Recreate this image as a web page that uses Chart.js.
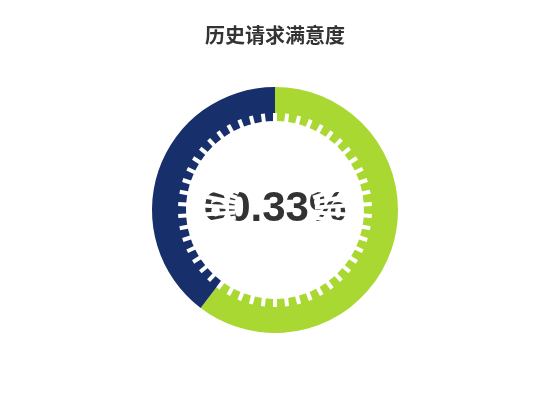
<!DOCTYPE html>
<html lang="zh">
<head>
    <meta charset="UTF-8">
    <title>历史请求满意度</title>
    <script src="https://cdn.jsdelivr.net/npm/chart.js"></script>
    <style>
        html, body { margin: 0; padding: 0; background: #fff; }
        #wrap { width: 550px; height: 420px; }
    </style>
</head>
<body>
<div id="wrap">
    <canvas id="gauge" width="550" height="420"></canvas>
</div>

<script>
    // 数据
    var labels = ['满意', '不满意'];
    var values = [60.33, 39.67];
    var colors = ['#a9d833', '#17306b'];
    var tickCount = 50;

    // 中心文字 + 白色刻度线
    var gaugeTicks = {
        id: 'gaugeTicks',
        afterDatasetsDraw: function (chart) {
            var arc = chart.getDatasetMeta(0).data[0];
            if (!arc) return;
            var ctx = chart.ctx;
            var cx = arc.x, cy = arc.y;
            var inner = arc.innerRadius;

            ctx.save();
            ctx.fillStyle = '#333';
            ctx.font = 'bold 42px "Liberation Sans", Arial, sans-serif';
            ctx.textAlign = 'center';
            ctx.textBaseline = 'middle';
            ctx.fillText(values[0].toFixed(2) + '%', cx, cy - 1);

            ctx.strokeStyle = '#fff';
            ctx.lineWidth = 4;
            ctx.lineCap = 'butt';
            for (var i = 0; i < tickCount; i++) {
                var a = -Math.PI / 2 + i * 2 * Math.PI / tickCount;
                var cos = Math.cos(a), sin = Math.sin(a);
                ctx.beginPath();
                ctx.moveTo(cx + cos * 40, cy + sin * 40);
                ctx.lineTo(cx + cos * (inner + 8), cy + sin * (inner + 8));
                ctx.stroke();
            }
            ctx.restore();
        }
    };

    var ctx = document.getElementById('gauge').getContext('2d');
    new Chart(ctx, {
        type: 'doughnut',
        data: {
            labels: labels,
            datasets: [{
                data: values,
                backgroundColor: colors,
                borderWidth: 0,
                hoverOffset: 0
            }]
        },
        options: {
            responsive: false,
            animation: false,
            cutout: 89,
            layout: { padding: { top: 0, bottom: 87 } },
            plugins: {
                legend: { display: false },
                tooltip: { enabled: false },
                title: {
                    display: true,
                    text: '历史请求满意度',
                    color: '#333',
                    font: { size: 20, weight: 'bold', family: '"Noto Sans CJK SC", sans-serif', lineHeight: 1.2 },
                    padding: { top: 23, bottom: 40 }
                }
            }
        },
        plugins: [gaugeTicks]
    });
</script>
</body>
</html>
